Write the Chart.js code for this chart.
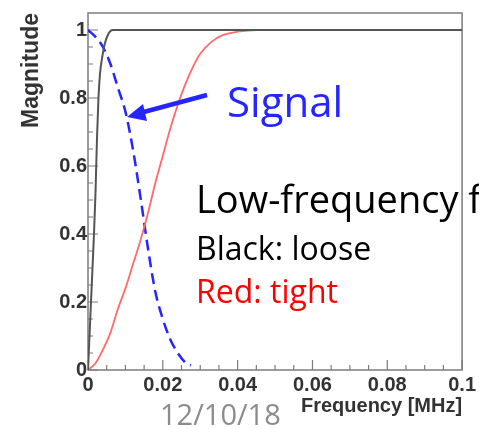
<!DOCTYPE html>
<html>
<head>
<meta charset="utf-8">
<script src="https://cdn.jsdelivr.net/npm/chart.js@4"></script>
<style>
  html, body { margin: 0; padding: 0; background: #fff; }
  #wrap { width: 479px; height: 429px; }
</style>
</head>
<body>
<div id="wrap"><canvas id="filterChart" width="479" height="429"></canvas></div>
<script>
// Loose (black) filter response
const freqLoose = [0, 0.0004, 0.0008, 0.0012, 0.0016, 0.002, 0.0024, 0.0028, 0.0032, 0.0038, 0.0045, 0.0055, 0.0066, 0.1];
const magLoose  = [0, 0.1, 0.2, 0.3, 0.4, 0.52, 0.68, 0.8, 0.87, 0.92, 0.96, 0.99, 1.0, 1.0];

// Tight (red) filter response
const freqTight = [0, 0.002, 0.004, 0.006, 0.008, 0.010, 0.012, 0.014, 0.016, 0.018, 0.020, 0.022, 0.024, 0.026, 0.028, 0.030, 0.033, 0.036, 0.040, 0.045, 0.1];
const magTight  = [0, 0.02, 0.06, 0.11, 0.18, 0.24, 0.31, 0.38, 0.46, 0.55, 0.63, 0.71, 0.78, 0.84, 0.89, 0.93, 0.965, 0.985, 0.995, 1.0, 1.0];

// Signal spectrum (blue dashed)
const freqSignal = [0, 0.002, 0.004, 0.006, 0.008, 0.010, 0.012, 0.014, 0.016, 0.018, 0.020, 0.022, 0.024, 0.026, 0.0268, 0.0275];
const magSignal  = [1.0, 0.98, 0.95, 0.90, 0.83, 0.76, 0.65, 0.51, 0.36, 0.23, 0.15, 0.09, 0.05, 0.022, 0.016, 0.014];

// Axis tick labels
const xTickValues = [0, 0.02, 0.04, 0.06, 0.08, 0.1];
const yTickValues = [0, 0.2, 0.4, 0.6, 0.8, 1];

const toPoints = (xs, ys) => xs.map((x, i) => ({ x: x, y: ys[i] }));

const FRAME = '#7c7c7c';
const AXIS_FAMILY = 'Liberation Sans';
const NOTE_FONT = 'Open Sans';

// ROOT-style frame with tick marks on the inside
const frameTicks = {
  id: 'frameTicks',
  beforeDatasetsDraw(chart) {
    const { ctx, chartArea: a, scales } = chart;
    const xs = scales.x, ys = scales.y;
    ctx.save();
    ctx.strokeStyle = FRAME;
    ctx.lineWidth = 1.5;
    ctx.strokeRect(a.left, a.top, a.right - a.left, a.bottom - a.top);
    ctx.lineWidth = 1.2;
    ctx.beginPath();
    for (let i = 0; i <= 20; i++) {
      const px = xs.getPixelForValue(i * 0.005);
      const len = i % 4 === 0 ? 10 : 5;
      ctx.moveTo(px, a.bottom);
      ctx.lineTo(px, a.bottom - len);
    }
    for (let i = 0; i <= 20; i++) {
      const py = ys.getPixelForValue(i * 0.05);
      const len = i % 4 === 0 ? 10 : 5;
      ctx.moveTo(a.left, py);
      ctx.lineTo(a.left + len, py);
    }
    ctx.stroke();
    ctx.restore();
  },
  afterDraw(chart) {
    const { ctx } = chart;
    ctx.save();

    // arrow pointing at the signal curve
    ctx.strokeStyle = '#2525ff';
    ctx.fillStyle = '#2525ff';
    ctx.lineWidth = 4.5;
    ctx.beginPath();
    ctx.moveTo(207, 95);
    ctx.lineTo(140, 113);
    ctx.stroke();
    ctx.beginPath();
    ctx.moveTo(127, 117);
    ctx.lineTo(143, 104);
    ctx.lineTo(147, 121);
    ctx.closePath();
    ctx.fill();

    ctx.textAlign = 'left';
    ctx.textBaseline = 'alphabetic';
    ctx.font = '42px "' + NOTE_FONT + '"';
    ctx.fillText('Signal', 227, 117);

    ctx.fillStyle = '#000';
    ctx.font = '38px "' + NOTE_FONT + '"';
    ctx.fillText('Low-frequency filter', 196, 213);
    ctx.font = '32px "' + NOTE_FONT + '"';
    ctx.fillText('Black: loose', 196, 260);
    ctx.fillStyle = '#ff0000';
    ctx.fillText('Red: tight', 196, 303);

    ctx.fillStyle = '#8c8c8c';
    ctx.font = '29px "' + NOTE_FONT + '"';
    ctx.fillText('12/10/18', 160, 425);
    ctx.restore();
  }
};

new Chart(document.getElementById('filterChart'), {
  type: 'scatter',
  data: {
    datasets: [
      {
        label: 'Loose',
        data: toPoints(freqLoose, magLoose),
        showLine: true,
        borderColor: '#555555',
        borderWidth: 2,
        pointRadius: 0,
        cubicInterpolationMode: 'monotone'
      },
      {
        label: 'Tight',
        data: toPoints(freqTight, magTight),
        showLine: true,
        borderColor: '#ff6a6a',
        borderWidth: 1.8,
        pointRadius: 0,
        cubicInterpolationMode: 'monotone'
      },
      {
        label: 'Signal',
        data: toPoints(freqSignal, magSignal),
        showLine: true,
        borderColor: '#2525ff',
        borderWidth: 2.5,
        borderDash: [11, 6],
        pointRadius: 0,
        cubicInterpolationMode: 'monotone'
      }
    ]
  },
  options: {
    responsive: false,
    animation: false,
    layout: { padding: { top: 10, right: 16, left: 0, bottom: 0 } },
    plugins: { legend: { display: false }, tooltip: { enabled: false } },
    scales: {
      x: {
        type: 'linear',
        min: 0,
        max: 0.1,
        grid: { display: false, drawTicks: false },
        border: { display: false },
        afterBuildTicks: (s) => { s.ticks = xTickValues.map(v => ({ value: v })); },
        afterFit: (s) => { s.height = 59; },
        ticks: {
          color: '#333',
          font: { family: AXIS_FAMILY, size: 20, weight: 'bold' },
          padding: 3,
          maxRotation: 0,
          autoSkip: false,
          callback: (v) => String(v)
        },
        title: {
          display: true,
          text: 'Frequency [MHz]',
          align: 'end',
          color: '#333',
          font: { family: AXIS_FAMILY, size: 20, weight: 'bold' },
          padding: { top: 0, bottom: 11 }
        }
      },
      y: {
        min: 0,
        max: 1.05,
        grid: { display: false, drawTicks: false },
        border: { display: false },
        afterBuildTicks: (s) => { s.ticks = yTickValues.map(v => ({ value: v })); },
        afterFit: (s) => { s.width = 88; },
        ticks: {
          color: '#333',
          font: { family: AXIS_FAMILY, size: 20, weight: 'bold' },
          padding: 1,
          autoSkip: false,
          callback: (v) => String(v)
        },
        title: {
          display: true,
          text: 'Magnitude',
          align: 'end',
          color: '#333',
          font: { family: AXIS_FAMILY, size: 23, weight: 'bold' },
          padding: { top: 18, bottom: 0 }
        }
      }
    }
  },
  plugins: [frameTicks]
});
</script>
</body>
</html>
